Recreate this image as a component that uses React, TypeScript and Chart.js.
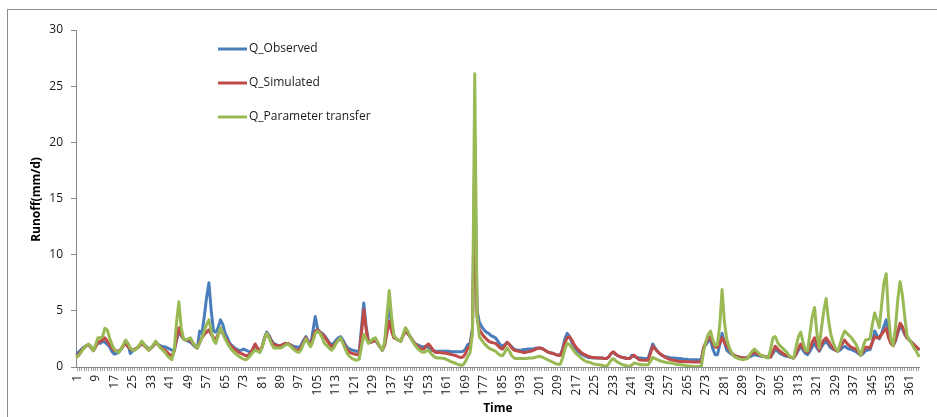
import React, { useEffect, useRef } from "react";
import { Chart, registerables } from "chart.js";

Chart.register(...registerables);

// Categories: day of year
const days: string[] = Array.from({ length: 365 }, (_, i) => String(i + 1));
const LABEL_EVERY = 8;

const seriesNames = ["Q_Observed", "Q_Simulated", "Q_Parameter transfer"];
const seriesColors = ["#4A7EBB", "#BE4B48", "#98B954"];

const yMin = 0;
const yMax = 30;
const yStep = 5;

const qObserved: number[] = [
  1.2, 1.4, 1.6, 1.8, 1.9, 2.0, 1.8, 1.5, 1.9, 2.2,
  2.1, 2.3, 2.2, 2.0, 1.8, 1.4, 1.15, 1.2, 1.3, 1.6,
  1.9, 2.2, 2.0, 1.2, 1.4, 1.6, 1.7, 1.9, 2.2, 2.0,
  1.8, 1.6, 1.7, 1.9, 2.2, 2.0, 1.9, 1.8, 1.8, 1.7,
  1.6, 1.5, 1.5, 2.4, 3.2, 2.8, 2.5, 2.4, 2.3, 2.2,
  2.0, 1.8, 1.7, 3.2, 3.0, 4.5, 6.2, 7.5, 5.0, 3.2,
  3.1, 3.5, 4.2, 3.8, 3.0, 2.6, 2.1, 1.9, 1.7, 1.6,
  1.45, 1.5, 1.6, 1.5, 1.4, 1.3, 1.6, 2.0, 1.6, 1.3,
  1.8, 2.6, 3.1, 2.8, 2.4, 2.1, 2.0, 1.9, 1.9, 2.0,
  2.1, 2.1, 2.0, 1.9, 1.8, 1.8, 1.7, 2.0, 2.4, 2.7,
  2.3, 2.0, 3.2, 4.5, 3.4, 3.1, 3.0, 2.8, 2.5, 2.2,
  2.0, 2.1, 2.4, 2.6, 2.7, 2.4, 2.0, 1.7, 1.6, 1.5,
  1.45, 1.4, 1.35, 3.5, 5.7, 3.6, 2.3, 2.2, 2.3, 2.4,
  2.1, 1.8, 1.5, 2.0, 4.0, 5.5, 3.8, 2.8, 2.5, 2.4,
  2.3, 2.8, 3.2, 3.0, 2.7, 2.4, 2.1, 2.0, 1.9, 1.8,
  1.8, 1.85, 1.7, 1.5, 1.45, 1.4, 1.4, 1.4, 1.4, 1.4,
  1.4, 1.4, 1.35, 1.35, 1.35, 1.35, 1.35, 1.4, 1.6, 2.0,
  2.1, 3.5, 19.0, 5.0, 4.0, 3.6, 3.3, 3.1, 3.0, 2.8,
  2.7, 2.6, 2.3, 2.0, 1.85, 2.0, 2.2, 2.0, 1.8, 1.6,
  1.5, 1.5, 1.5, 1.55, 1.55, 1.6, 1.6, 1.6, 1.65, 1.7,
  1.7, 1.65, 1.55, 1.4, 1.3, 1.25, 1.2, 1.1, 1.05, 1.05,
  1.6, 2.5, 3.0, 2.7, 2.2, 1.8, 1.5, 1.3, 1.15, 1.05,
  0.95, 0.85, 0.85, 0.8, 0.8, 0.8, 0.8, 0.8, 0.75, 0.75,
  0.9, 1.2, 1.3, 1.1, 1.0, 0.9, 0.85, 0.8, 0.75, 0.75,
  1.05, 0.95, 0.85, 0.8, 0.8, 0.75, 0.75, 0.75, 1.4, 2.05,
  1.7, 1.4, 1.2, 1.05, 0.95, 0.9, 0.85, 0.8, 0.8, 0.78,
  0.75, 0.75, 0.72, 0.7, 0.68, 0.65, 0.65, 0.65, 0.65, 0.65,
  0.65, 1.7, 2.0, 2.3, 2.4, 1.6, 1.1, 1.1, 2.0, 3.0,
  2.2, 1.5, 1.3, 1.15, 1.05, 0.95, 0.9, 0.85, 0.8, 0.8,
  0.85, 0.9, 1.0, 1.1, 1.05, 1.0, 0.95, 0.95, 0.9, 0.9,
  0.9, 1.2, 1.55, 1.4, 1.2, 1.1, 1.0, 0.95, 0.9, 0.85,
  0.8, 1.1, 1.5, 1.85, 1.5, 1.2, 1.1, 1.4, 1.8, 2.1,
  1.7, 1.4, 1.8, 2.1, 2.3, 2.0, 1.7, 1.6, 1.5, 1.4,
  1.5, 1.7, 1.85, 1.7, 1.6, 1.55, 1.45, 1.35, 1.2, 1.05,
  1.2, 1.45, 1.5, 1.55, 2.2, 3.2, 2.8, 2.5, 3.0, 3.6,
  4.2, 3.0, 2.2, 1.9, 2.3, 3.0, 3.6, 3.4, 2.9, 2.6,
  2.4, 2.2, 2.0, 1.8, 1.6,
];

const qSimulated: number[] = [
  1.0, 1.2, 1.5, 1.7, 1.9, 2.0, 1.7, 1.45, 1.8, 2.2,
  2.3, 2.4, 2.6, 2.3, 2.0, 1.7, 1.5, 1.45, 1.4, 1.6,
  1.9, 2.1, 1.8, 1.6, 1.5, 1.6, 1.7, 1.9, 2.1, 1.9,
  1.7, 1.5, 1.7, 1.9, 2.2, 2.0, 1.8, 1.6, 1.5, 1.3,
  1.1, 1.0, 1.4, 2.5, 3.5, 2.9, 2.5, 2.4, 2.4, 2.4,
  2.1, 1.9, 1.7, 2.2, 2.6, 2.9, 3.1, 3.3, 2.9, 2.6,
  2.5, 2.9, 3.3, 3.0, 2.6, 2.3, 2.0, 1.8, 1.6, 1.45,
  1.3, 1.2, 1.1, 1.0, 1.05, 1.2, 1.6, 2.05, 1.7, 1.4,
  1.8, 2.5, 3.0, 2.7, 2.3, 2.0, 1.95, 1.9, 1.9, 2.0,
  2.1, 2.1, 2.0, 1.8, 1.6, 1.5, 1.5, 1.8, 2.2, 2.6,
  2.2, 1.9, 2.6, 3.2, 3.3, 3.1, 2.9, 2.7, 2.4, 2.1,
  1.8, 1.9, 2.2, 2.4, 2.5, 2.2, 1.8, 1.5, 1.3, 1.2,
  1.15, 1.1, 1.1, 3.0, 5.1, 3.4, 2.2, 2.2, 2.3, 2.4,
  2.1, 1.8, 1.5, 1.9, 3.0, 4.1, 3.2, 2.6, 2.5, 2.4,
  2.3, 2.8, 3.2, 3.0, 2.7, 2.4, 2.1, 1.9, 1.7, 1.6,
  1.6, 1.9, 2.05, 1.8, 1.5, 1.3, 1.3, 1.3, 1.25, 1.25,
  1.2, 1.15, 1.1, 1.05, 1.0, 0.9, 0.85, 0.9, 1.2, 1.7,
  1.8, 3.2, 14.6, 4.5, 3.3, 3.0, 2.7, 2.5, 2.3, 2.2,
  2.15, 2.1, 1.9, 1.7, 1.6, 1.9, 2.2, 2.0, 1.7, 1.5,
  1.45, 1.4, 1.35, 1.3, 1.3, 1.35, 1.4, 1.45, 1.55, 1.65,
  1.7, 1.65, 1.55, 1.4, 1.3, 1.25, 1.2, 1.1, 1.05, 1.05,
  1.5, 2.2, 2.6, 2.7, 2.4, 2.0, 1.7, 1.5, 1.3, 1.15,
  1.05, 0.95, 0.9, 0.85, 0.85, 0.8, 0.8, 0.8, 0.75, 0.75,
  0.9, 1.2, 1.35, 1.15, 1.0, 0.9, 0.85, 0.8, 0.75, 0.75,
  0.9, 1.05, 0.85, 0.65, 0.62, 0.6, 0.6, 0.6, 1.2, 1.85,
  1.6, 1.4, 1.2, 1.05, 0.9, 0.8, 0.7, 0.65, 0.6, 0.55,
  0.52, 0.5, 0.5, 0.48, 0.47, 0.46, 0.45, 0.45, 0.45, 0.45,
  0.45, 1.75, 2.2, 2.5, 2.7, 2.1, 1.75, 1.75, 2.1, 2.6,
  2.2, 1.85, 1.6, 1.3, 1.05, 0.95, 0.9, 0.85, 0.8, 0.8,
  0.85, 1.0, 1.2, 1.3, 1.2, 1.1, 1.0, 0.95, 0.9, 0.9,
  0.9, 1.4, 1.85, 1.6, 1.4, 1.25, 1.1, 1.05, 0.95, 0.85,
  0.8, 1.2, 1.7, 2.05, 1.7, 1.4, 1.3, 1.7, 2.2, 2.6,
  2.0, 1.5, 2.0, 2.4, 2.6, 2.3, 1.95, 1.7, 1.5, 1.4,
  1.7, 2.1, 2.4, 2.1, 1.9, 1.75, 1.65, 1.6, 1.3, 1.05,
  1.4, 1.75, 1.75, 1.7, 2.2, 2.7, 2.6, 2.6, 2.9, 3.2,
  3.45, 2.6, 2.1, 1.9, 2.4, 3.2, 3.9, 3.6, 3.0, 2.6,
  2.4, 2.2, 2.0, 1.8, 1.6,
];

const qTransfer: number[] = [
  0.9, 1.1, 1.4, 1.7, 1.9, 2.05, 1.8, 1.45, 2.0, 2.6,
  2.6, 2.7, 3.45, 3.3, 2.6, 2.0, 1.6, 1.4, 1.3, 1.6,
  2.0, 2.4, 2.1, 1.7, 1.5, 1.5, 1.7, 2.0, 2.3, 2.0,
  1.7, 1.5, 1.7, 2.0, 2.3, 2.0, 1.7, 1.5, 1.3, 1.0,
  0.8, 0.65, 1.5, 4.0, 5.8, 3.5, 2.5, 2.4, 2.5, 2.6,
  2.2, 1.9, 1.7, 2.1, 2.6, 3.2, 3.8, 4.2, 3.2, 2.4,
  2.1, 2.8, 3.5, 3.0, 2.5, 2.1, 1.8, 1.5, 1.3, 1.1,
  0.95, 0.8, 0.7, 0.65, 0.8, 1.05, 1.3, 1.5, 1.4, 1.3,
  1.7, 2.5, 3.0, 2.6, 2.1, 1.7, 1.7, 1.7, 1.7, 1.8,
  1.95, 2.05, 1.9, 1.7, 1.5, 1.35, 1.3, 1.6, 2.1, 2.5,
  2.1, 1.8, 2.3, 3.0, 3.2, 3.0, 2.6, 2.1, 1.9, 1.7,
  1.5, 1.7, 2.1, 2.4, 2.6, 2.1, 1.6, 1.15, 0.9, 0.75,
  0.65, 0.6, 0.7, 1.8, 2.9, 2.5, 2.1, 2.3, 2.5, 2.6,
  2.2, 1.8, 1.5, 2.2, 4.5, 6.8, 4.5, 2.8, 2.5, 2.4,
  2.3, 2.9, 3.5, 3.2, 2.7, 2.3, 2.0, 1.7, 1.5, 1.35,
  1.3, 1.4, 1.5, 1.2, 1.0, 0.85, 0.8, 0.8, 0.78, 0.75,
  0.65, 0.55, 0.45, 0.38, 0.3, 0.22, 0.15, 0.2, 0.5, 0.95,
  1.3, 3.0, 26.1, 4.5, 2.7, 2.4, 2.1, 1.9, 1.7, 1.6,
  1.5, 1.4, 1.2, 1.05, 1.0, 1.3, 1.7, 1.4, 1.0, 0.8,
  0.75, 0.75, 0.75, 0.75, 0.75, 0.78, 0.8, 0.8, 0.85, 0.9,
  0.95, 0.9, 0.8, 0.7, 0.6, 0.5, 0.4, 0.3, 0.25, 0.25,
  0.8, 1.6, 2.1, 2.0, 1.7, 1.4, 1.15, 1.0, 0.8, 0.65,
  0.5, 0.45, 0.4, 0.3, 0.25, 0.22, 0.2, 0.15, 0.1, 0.05,
  0.3, 0.6, 0.75, 0.55, 0.4, 0.3, 0.2, 0.15, 0.1, 0.05,
  0.2, 0.35, 0.3, 0.25, 0.2, 0.2, 0.2, 0.2, 0.5, 0.85,
  0.75, 0.65, 0.55, 0.5, 0.45, 0.4, 0.38, 0.35, 0.3, 0.25,
  0.22, 0.2, 0.18, 0.15, 0.1, 0.08, 0.05, 0.05, 0.05, 0.05,
  0.05, 1.4, 2.3, 2.9, 3.2, 2.4, 1.9, 2.0, 3.8, 6.9,
  4.0, 2.5, 1.8, 1.3, 0.95, 0.85, 0.75, 0.7, 0.65, 0.7,
  0.75, 1.1, 1.4, 1.6, 1.4, 1.2, 1.0, 0.95, 0.85, 0.8,
  1.6, 2.6, 2.7, 2.2, 1.9, 1.7, 1.5, 1.3, 1.0, 0.85,
  0.8, 1.8, 2.7, 3.1, 2.2, 1.5, 1.45, 3.0, 4.5, 5.3,
  3.0, 1.7, 3.5, 5.0, 6.1, 4.2, 2.95, 2.2, 1.7, 1.4,
  2.0, 2.7, 3.2, 3.0, 2.8, 2.6, 2.3, 2.0, 1.5, 1.05,
  1.8, 2.4, 2.45, 2.5, 3.8, 4.8, 4.2, 3.5, 5.5, 7.5,
  8.3, 4.5, 2.5, 1.9, 3.5, 6.0, 7.6, 6.4, 4.5, 2.8,
  2.4, 2.1, 1.7, 1.4, 1.0,
];

const seriesValues = [qObserved, qSimulated, qTransfer];

const FONT = '"Open Sans", "Noto Sans", sans-serif';

export default function App() {
  const canvasRef = useRef<HTMLCanvasElement | null>(null);

  useEffect(() => {
    if (!canvasRef.current) return;

    const overlay = {
      id: "overlay",
      afterDraw(chart: any) {
        const { ctx, chartArea } = chart;
        ctx.save();
        // legend inside plot area
        const legendY = [49, 83, 117];
        chart.data.datasets.forEach((ds: any, i: number) => {
          const y = legendY[i];
          ctx.strokeStyle = ds.borderColor;
          ctx.lineWidth = 3;
          ctx.lineCap = "butt";
          ctx.beginPath();
          ctx.moveTo(218, y);
          ctx.lineTo(247, y);
          ctx.stroke();
          ctx.fillStyle = "#1a1a1a";
          ctx.font = `12px ${FONT}`;
          ctx.textAlign = "left";
          ctx.textBaseline = "middle";
          ctx.fillText(ds.label, 249, y);
        });
        // axis titles
        ctx.fillStyle = "#000";
        ctx.font = `bold 12px ${FONT}`;
        ctx.textAlign = "center";
        ctx.textBaseline = "middle";
        ctx.fillText("Time", (chartArea.left + chartArea.right) / 2, 409);
        ctx.translate(37, (chartArea.top + chartArea.bottom) / 2 + 1);
        ctx.rotate(-Math.PI / 2);
        ctx.fillText("Runoff(mm/d)", 0, 0);
        ctx.restore();
      },
    };

    const order = [3, 2, 1];
    const chart = new Chart(canvasRef.current, {
      type: "line",
      data: {
        labels: days,
        datasets: seriesValues.map((vals, i) => ({
          label: seriesNames[i],
          data: vals,
          borderColor: seriesColors[i],
          backgroundColor: seriesColors[i],
          borderWidth: 3,
          pointRadius: 0,
          tension: 0,
          fill: false,
          order: order[i],
          borderJoinStyle: "round" as const,
          borderCapStyle: "round" as const,
        })),
      },
      options: {
        animation: false,
        responsive: false,
        maintainAspectRatio: false,
        layout: { padding: { top: 30, right: 13, left: 0, bottom: 0 } },
        plugins: {
          legend: { display: false },
          tooltip: { enabled: false },
          title: { display: false },
        },
        scales: {
          x: {
            type: "category",
            offset: true,
            grid: {
              display: true,
              drawOnChartArea: false,
              drawTicks: true,
              tickLength: 4,
              color: "#a0a0a0",
              lineWidth: 1,
              offset: false,
            },
            border: { display: true, color: "#868686", width: 1 },
            ticks: {
              autoSkip: false,
              maxRotation: 90,
              minRotation: 90,
              padding: 4,
              color: "#1a1a1a",
              font: { family: FONT, size: 12 },
              callback: (_v: any, i: number) => (i % LABEL_EVERY === 0 ? days[i] : ""),
            },
            afterFit: (scale: any) => {
              scale.height = 50;
            },
          },
          y: {
            min: yMin,
            max: yMax,
            grid: {
              display: true,
              drawOnChartArea: false,
              drawTicks: true,
              tickLength: 5,
              color: "#868686",
            },
            border: { display: true, color: "#868686", width: 1 },
            ticks: {
              stepSize: yStep,
              padding: 8,
              color: "#1a1a1a",
              font: { family: FONT, size: 12 },
            },
            afterFit: (scale: any) => {
              scale.width = 76;
            },
          },
        },
      } as any,
      plugins: [overlay],
    });

    return () => chart.destroy();
  }, []);

  return (
    <div
      style={{
        position: "fixed",
        left: 0,
        top: 0,
        width: 937,
        height: 417,
        background: "#fff",
        overflow: "hidden",
      }}
    >
      <div
        style={{
          position: "absolute",
          left: 7,
          top: 9,
          width: 960,
          height: 440,
          border: "1px solid #8c8c8c",
        }}
      />
      <canvas
        ref={canvasRef}
        width={937}
        height={417}
        style={{ position: "absolute", left: 0, top: 0, width: 937, height: 417 }}
      />
    </div>
  );
}
